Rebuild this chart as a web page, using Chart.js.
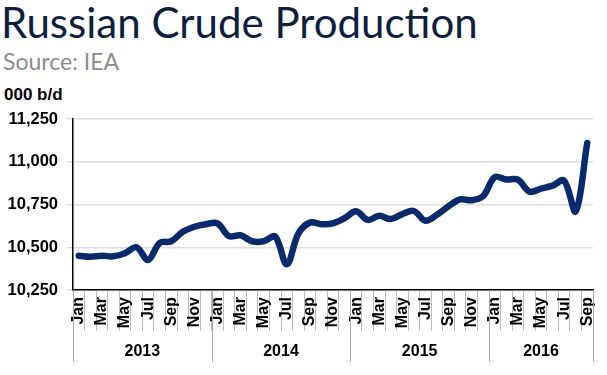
<!DOCTYPE html>
<html>
<head>
<meta charset="utf-8">
<script src="https://cdn.jsdelivr.net/npm/chart.js@4"></script>
<style>
  html, body { margin: 0; padding: 0; background: #fff; }
  #wrap { position: relative; width: 607px; height: 375px; overflow: hidden; }
  #title { position: absolute; left: 1px; top: -3px; font: 42px Lato, sans-serif; color: #0d1f3d; white-space: nowrap; }
  #source { position: absolute; left: 3px; top: 47px; font: 23px Lato, sans-serif; color: #8c8c8c; }
  #unit { position: absolute; left: 4px; top: 85px; font: bold 17px "Liberation Sans", Arial, sans-serif; color: #000; }
  canvas { position: absolute; left: 0; top: 0; }
</style>
</head>
<body>
<div id="wrap">
  <div id="title">Russian Crude Production</div>
  <div id="source">Source: IEA</div>
  <div id="unit">000 b/d</div>
  <canvas id="chart" width="607" height="375"></canvas>
</div>
<script>
  // months Jan 2013 .. Sep 2016
  const monthNames = ["Jan", "Feb", "Mar", "Apr", "May", "Jun", "Jul", "Aug", "Sep", "Oct", "Nov", "Dec"];
  const years = ["2013", "2014", "2015", "2016"];
  const monthsPerYear = [12, 12, 12, 9];

  // Russian crude production, 000 b/d
  const production = [
    10450, 10445, 10450, 10447, 10465, 10500, 10425, 10525, 10535, 10590, 10620, 10635,
    10640, 10565, 10570, 10535, 10535, 10562, 10400, 10580, 10644, 10635, 10640, 10670,
    10710, 10660, 10684, 10665, 10694, 10712, 10655, 10690, 10740, 10780, 10775, 10800,
    10910, 10896, 10895, 10825, 10843, 10860, 10890, 10710, 11110
  ];

  const yTicks = [10250, 10500, 10750, 11000, 11250];

  const labels = [];
  monthsPerYear.forEach(n => {
    for (let m = 0; m < n; m++) labels.push(monthNames[m]);
  });

  const AXIS_FONT = "'Liberation Sans', Arial, sans-serif";

  // year row under the month labels
  const yearRow = {
    id: "yearRow",
    afterDraw(chart) {
      const ctx = chart.ctx;
      const x = chart.scales.x;
      const half = (x.getPixelForValue(1) - x.getPixelForValue(0)) / 2;
      const top = chart.chartArea.bottom;
      ctx.save();
      ctx.strokeStyle = "#aaaaaa";
      ctx.lineWidth = 1;
      ctx.fillStyle = "#000";
      ctx.font = "bold 16px " + AXIS_FONT;
      ctx.textAlign = "center";
      ctx.textBaseline = "middle";
      let start = 0;
      years.forEach((yr, i) => {
        const end = start + monthsPerYear[i] - 1;
        const left = x.getPixelForValue(start) - half;
        const right = x.getPixelForValue(end) + half;
        [left, right].forEach(px => {
          ctx.beginPath();
          ctx.moveTo(Math.round(px) + 0.5, top);
          ctx.lineTo(Math.round(px) + 0.5, 362);
          ctx.stroke();
        });
        ctx.fillText(yr, (left + right) / 2, 352);
        start = end + 1;
      });
      ctx.restore();
    }
  };

  new Chart(document.getElementById("chart").getContext("2d"), {
    type: "line",
    data: {
      labels: labels,
      datasets: [{
        data: production,
        borderColor: "#0a2a6c",
        borderWidth: 6.5,
        pointRadius: 0,
        tension: 0.35,
        borderCapStyle: "round",
        borderJoinStyle: "round",
        fill: false
      }]
    },
    options: {
      responsive: false,
      animation: false,
      layout: { padding: { left: 0, right: 14, top: 119, bottom: 0 } },
      plugins: { legend: { display: false }, tooltip: { enabled: false } },
      scales: {
        x: {
          offset: true,
          afterFit: s => { s.height = 85; },
          border: { color: "#000", width: 1.5 },
          grid: {
            offset: true,
            drawOnChartArea: false,
            drawTicks: true,
            tickLength: 41,
            color: "#bbbbbb"
          },
          ticks: {
            autoSkip: false,
            minRotation: 90,
            maxRotation: 90,
            padding: -34,
            color: "#000",
            font: { family: AXIS_FONT, size: 16, weight: "bold" },
            callback: (v, i) => (i % 2 === 0 ? labels[i] : "")
          }
        },
        y: {
          min: 10250,
          max: 11250,
          afterFit: s => { s.width = 73; },
          afterBuildTicks: s => { s.ticks = yTicks.map(v => ({ value: v })); },
          border: { color: "#000", width: 1.5 },
          grid: { color: "#dddddd", tickLength: 6, lineWidth: 1.5 },
          ticks: {
            color: "#000",
            padding: 9,
            font: { family: AXIS_FONT, size: 16.5, weight: "bold" },
            callback: v => v.toLocaleString("en-US")
          }
        }
      }
    },
    plugins: [yearRow]
  });
</script>
</body>
</html>
